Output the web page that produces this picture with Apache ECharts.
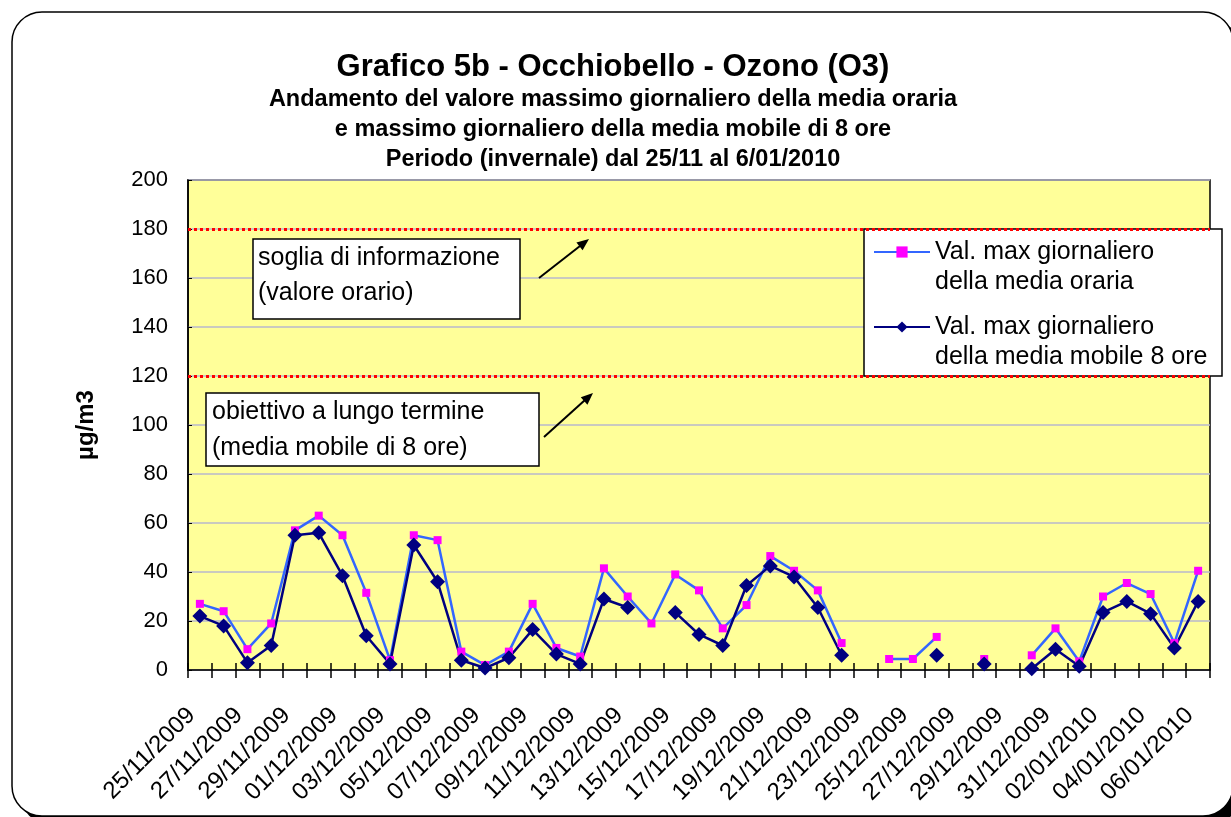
<!DOCTYPE html>
<html>
<head>
<meta charset="utf-8">
<script src="https://cdn.jsdelivr.net/npm/echarts@6/dist/echarts.min.js"></script>
<style>
  html, body { margin: 0; padding: 0; background: #fff; }
  #chart { width: 1231px; height: 817px; }
</style>
</head>
<body>
<div id="chart"></div>
<script>
// giorni dal 25/11/2009 al 06/01/2010
var giorni = [
    '25/11/2009', '26/11/2009', '27/11/2009', '28/11/2009', '29/11/2009', '30/11/2009',
    '01/12/2009', '02/12/2009', '03/12/2009', '04/12/2009', '05/12/2009', '06/12/2009',
    '07/12/2009', '08/12/2009', '09/12/2009', '10/12/2009', '11/12/2009', '12/12/2009',
    '13/12/2009', '14/12/2009', '15/12/2009', '16/12/2009', '17/12/2009', '18/12/2009',
    '19/12/2009', '20/12/2009', '21/12/2009', '22/12/2009', '23/12/2009', '24/12/2009',
    '25/12/2009', '26/12/2009', '27/12/2009', '28/12/2009', '29/12/2009', '30/12/2009',
    '31/12/2009', '01/01/2010', '02/01/2010', '03/01/2010', '04/01/2010', '05/01/2010',
    '06/01/2010'
]

// max giornaliero della media oraria
var mediaOraria = [
    27, 24, 8.5, 19, 57, 63, 55, 31.5, 4, 55, 53, 7.5,
    2, 7.5, 27, 9, 5.5, 41.5, 30, 19, 39, 32.5, 17, 26.5,
    46.5, 40.5, 32.5, 11, null, 4.5, 4.5, 13.5, null, 4.5, null, 6,
    17, 3.5, 30, 35.5, 31, 11, 40.5
]

// max giornaliero della media mobile 8 ore
var mediaMobile8 = [
    22, 18, 3, 10, 55, 56, 38.5, 14, 2.5, 51, 36, 4,
    0.8, 5, 16.5, 6.5, 2.5, 29, 25.5, null, 23.5, 14.5, 10, 34.5,
    42.5, 38, 25.5, 6, null, null, null, 6, null, 2.5, null, 0.5,
    8.5, 1.5, 23.5, 28, 23, 9, 28
]

var soglie = [180, 120]

var nomeOraria = 'Val. max giornaliero\ndella media oraria'
var nomeMobile = 'Val. max giornaliero\ndella media mobile 8 ore'

var font = "'Liberation Sans', Arial, sans-serif"

var chart = echarts.init(document.getElementById('chart'))

var legendText = {
    fontSize: 25,
    lineHeight: 30,
    color: '#000',
    fontFamily: font
}

// riga vuota in testa: così il simbolo resta allineato alla prima riga
var legendFormatter = function (name) {
    return ' \n' + name
}

var option = {
    animation: false,
    backgroundColor: 'transparent',
    textStyle: { fontFamily: font },
    title: {
        text: 'Grafico 5b - Occhiobello - Ozono (O3)',
        subtext: 'Andamento del valore massimo giornaliero della media oraria\ne massimo giornaliero della media mobile di 8 ore\nPeriodo (invernale) dal 25/11 al 6/01/2010',
        left: 608,
        textAlign: 'center',
        top: 47,
        itemGap: 2,
        textStyle: { fontSize: 31, fontWeight: 'bold', color: '#000', fontFamily: font },
        subtextStyle: { fontSize: 23.5, fontWeight: 'bold', color: '#000', lineHeight: 30, fontFamily: font }
    },
    legend: [
        {
            data: [nomeOraria],
            left: 873, top: 207,
            padding: 0,
            itemWidth: 56, itemHeight: 14,
            formatter: legendFormatter,
            textStyle: legendText,
            selectedMode: false
        },
        {
            data: [nomeMobile],
            left: 873, top: 282,
            padding: 0,
            itemWidth: 56, itemHeight: 14,
            formatter: legendFormatter,
            textStyle: legendText,
            selectedMode: false
        }
    ],
    grid: {
        left: 188, right: 21, top: 180, bottom: 147,
        show: true,
        backgroundColor: '#ffff99',
        borderColor: '#000',
        borderWidth: 1.5
    },
    xAxis: [
        {
            type: 'category',
            data: giorni,
            boundaryGap: true,
            axisLine: { lineStyle: { color: '#000', width: 1.5 } },
            axisTick: { show: true, length: 8, interval: 0, lineStyle: { color: '#000', width: 1.5 } },
            axisLabel: {
                interval: 1,
                rotate: 45,
                margin: 50,
                verticalAlign: 'bottom',
                fontSize: 24,
                color: '#000'
            }
        },
        {
            type: 'category',
            data: giorni,
            position: 'bottom',
            boundaryGap: true,
            axisLine: { show: false },
            axisTick: { show: true, inside: true, length: 7, interval: 0, lineStyle: { color: '#000', width: 1.5 } },
            axisLabel: { show: false }
        }
    ],
    yAxis: {
        type: 'value',
        min: 0, max: 200, interval: 20,
        name: 'µg/m3',
        nameLocation: 'middle',
        nameGap: 90,
        nameRotate: 90,
        nameTextStyle: { fontSize: 24, fontWeight: 'bold', color: '#000' },
        axisLine: { show: true, lineStyle: { color: '#000', width: 1.5 } },
        axisTick: { show: true, inside: true, length: 4, lineStyle: { color: '#000' } },
        axisLabel: { fontSize: 22, color: '#000', margin: 20 },
        splitLine: { lineStyle: { color: '#b8b8cc', width: 1.5 } }
    },
    series: [
        {
            name: nomeOraria,
            type: 'line',
            data: mediaOraria,
            connectNulls: false,
            showAllSymbol: true,
            symbol: 'rect',
            symbolSize: 8,
            itemStyle: { color: '#ff00ff' },
            lineStyle: { color: '#3366ff', width: 2.5 },
            markLine: {
                silent: true,
                symbol: 'none',
                label: { show: false },
                lineStyle: { color: '#ff0000', width: 3, type: [3, 3] },
                data: soglie.map(function (v) { return { yAxis: v } })
            }
        },
        {
            name: nomeMobile,
            type: 'line',
            data: mediaMobile8,
            connectNulls: false,
            showAllSymbol: true,
            symbol: 'diamond',
            symbolSize: 15,
            itemStyle: { color: '#000080' },
            lineStyle: { color: '#000080', width: 2.5 }
        }
    ],
    graphic: [
        // cornice esterna con ombra
        {
            type: 'rect', z: -101, silent: true,
            shape: { x: 20, y: 20, width: 1221, height: 804, r: 30 },
            style: { fill: '#000' }
        },
        {
            type: 'rect', z: -100, silent: true,
            shape: { x: 12, y: 12, width: 1221, height: 804, r: 30 },
            style: { fill: '#fff', stroke: '#000', lineWidth: 1.5 }
        },
        // riquadro legenda
        {
            type: 'rect', z: 3, silent: true,
            shape: { x: 864, y: 229, width: 358, height: 147 },
            style: { fill: '#fff', stroke: '#000', lineWidth: 1.5 }
        },
        // soglia di informazione
        {
            type: 'rect', z: 3, silent: true,
            shape: { x: 253, y: 239, width: 267, height: 80 },
            style: { fill: '#fff', stroke: '#000', lineWidth: 1.5 }
        },
        {
            type: 'text', z: 4, silent: true, left: 258, top: 241,
            style: { text: 'soglia di informazione\n(valore orario)', font: '25px ' + font, lineHeight: 35, fill: '#000' }
        },
        // obiettivo a lungo termine
        {
            type: 'rect', z: 3, silent: true,
            shape: { x: 206, y: 393, width: 333, height: 73 },
            style: { fill: '#fff', stroke: '#000', lineWidth: 1.5 }
        },
        {
            type: 'text', z: 4, silent: true, left: 212, top: 394,
            style: { text: 'obiettivo a lungo termine\n(media mobile di 8 ore)', font: '25px ' + font, lineHeight: 36, fill: '#000' }
        },
        // frecce
        {
            type: 'line', z: 4, silent: true,
            shape: { x1: 539, y1: 278, x2: 580, y2: 246 },
            style: { stroke: '#000', lineWidth: 2 }
        },
        {
            type: 'polygon', z: 4, silent: true,
            shape: { points: [[589, 239], [582.6, 250.3], [576.4, 242.5]] },
            style: { fill: '#000' }
        },
        {
            type: 'line', z: 4, silent: true,
            shape: { x1: 544, y1: 437, x2: 585, y2: 400 },
            style: { stroke: '#000', lineWidth: 2 }
        },
        {
            type: 'polygon', z: 4, silent: true,
            shape: { points: [[593, 393], [587.4, 404.7], [580.8, 397.3]] },
            style: { fill: '#000' }
        }
    ]
}

chart.setOption(option)
</script>
</body>
</html>
